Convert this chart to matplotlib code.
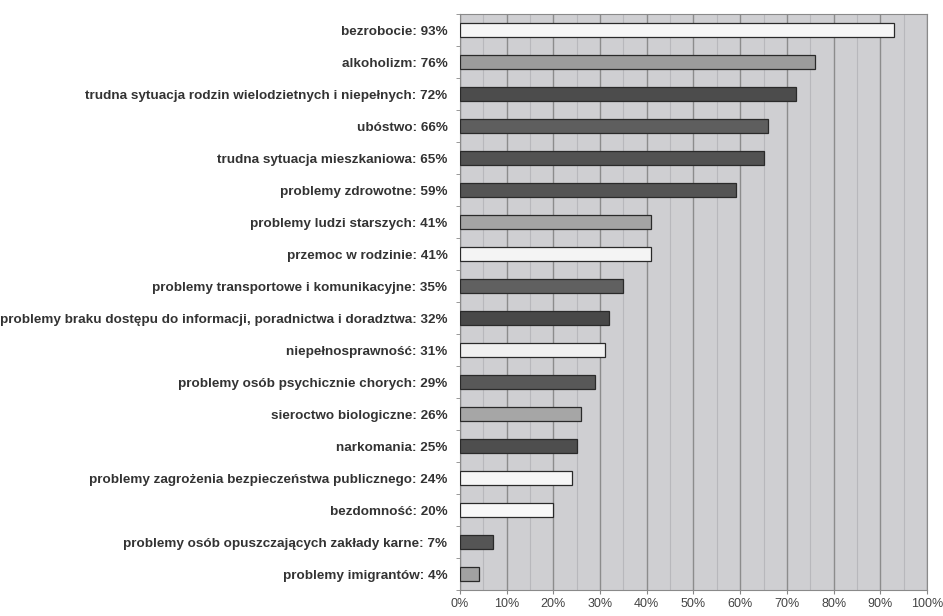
import matplotlib.pyplot as plt
from matplotlib.ticker import MultipleLocator

problemy = ['bezrobocie', 'alkoholizm',
            'trudna sytuacja rodzin wielodzietnych i niepełnych', 'ubóstwo',
            'trudna sytuacja mieszkaniowa', 'problemy zdrowotne',
            'problemy ludzi starszych', 'przemoc w rodzinie',
            'problemy transportowe i komunikacyjne',
            'problemy braku dostępu do informacji, poradnictwa i doradztwa',
            'niepełnosprawność', 'problemy osób psychicznie chorych',
            'sieroctwo biologiczne', 'narkomania',
            'problemy zagrożenia bezpieczeństwa publicznego', 'bezdomność',
            'problemy osób opuszczających zakłady karne', 'problemy imigrantów']
procent = [93, 76, 72, 66, 65, 59, 41, 41, 35, 32, 31, 29, 26, 25, 24, 20, 7, 4]
kolory = ['#f6f6f6', '#9c9c9c', '#4c4c4c', '#5e5e5e', '#525252', '#545454',
          '#a4a4a4', '#f4f4f4', '#606060', '#484848', '#f0f0f0', '#585858',
          '#a6a6a6', '#4e4e4e', '#f6f6f6', '#f8f8f8', '#555555', '#a2a2a2']
xticks = [0, 10, 20, 30, 40, 50, 60, 70, 80, 90, 100]

plt.rcParams['font.family'] = ['Liberation Sans', 'DejaVu Sans']

fig = plt.figure(figsize=(9.43, 6.16), dpi=100)
ax = fig.add_axes([0.4878, 0.042, 0.4952, 0.935])
ax.set_facecolor('#cfcfd2')

y = list(range(len(problemy)))
ax.barh(y, procent, height=0.42, color=kolory, edgecolor='#2a2a2a',
        linewidth=0.9, zorder=3)

ax.set_xlim(0, 100)
ax.set_ylim(len(problemy) - 0.5, -0.5)
ax.set_xticks(xticks)
ax.set_xticklabels([f'{v}%' for v in xticks], fontsize=9, color='#444444')
ax.xaxis.set_minor_locator(MultipleLocator(5))
ax.grid(axis='x', which='major', color='#8c8c8c', linewidth=1.0, zorder=1)
ax.grid(axis='x', which='minor', color='#b8b8bc', linewidth=0.8, zorder=1)

ax.set_yticks(y)
ax.set_yticklabels([f'{p}: {v}%' for p, v in zip(problemy, procent)],
                   fontsize=9.7, fontweight='bold', color='#333333')
ax.set_yticks([i + 0.5 for i in range(-1, len(problemy))], minor=True)
ax.tick_params(axis='y', which='major', length=0, pad=9)
ax.tick_params(axis='y', which='minor', length=3, color='#888888')
ax.tick_params(axis='x', which='major', length=3, color='#888888', pad=3)
ax.tick_params(axis='x', which='minor', length=0)

for s in ax.spines.values():
    s.set_color('#8a8a8a')
    s.set_linewidth(0.8)

fig.savefig('out.png', dpi=100, facecolor='white')
